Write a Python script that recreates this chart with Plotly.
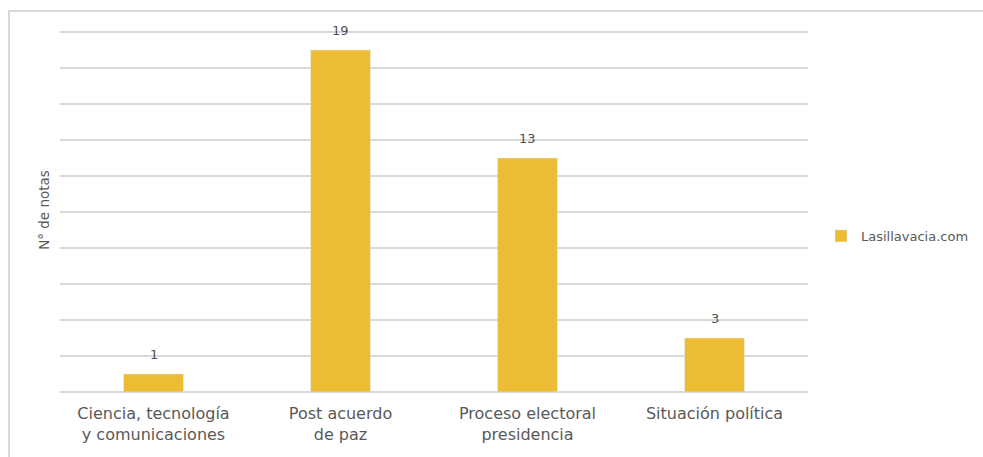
import plotly.graph_objects as go

categories = ["Ciencia, tecnología<br>y comunicaciones", "Post acuerdo<br>de paz",
              "Proceso electoral<br>presidencia", "Situación política"]
values = [1, 19, 13, 3]
series_name = "Lasillavacia.com"

W, H = 983, 457
L, R, T, B = 60, 175, 28, 65
pw, ph = W - L - R, H - T - B
FONT = "DejaVu Sans"
ytop = 20 * ph / (ph - 4)

fig = go.Figure(go.Bar(
    x=categories, y=values, name=series_name,
    marker=dict(color="#EDBC35"),
))

for c, v in zip(categories, values):
    fig.add_annotation(x=c, y=v, text=str(v), showarrow=False, yanchor="bottom", yshift=10,
                       font=dict(family=FONT, size=13, color="#505050"))

fig.update_layout(
    width=W, height=H,
    margin=dict(l=L, r=R, t=T, b=B, autoexpand=False),
    plot_bgcolor="white", paper_bgcolor="white",
    bargap=0.68,
    showlegend=True,
    legend=dict(xref="container", yref="container", x=821 / W, y=1 - 236 / H,
                xanchor="left", yanchor="middle",
                font=dict(family=FONT, size=13, color="#595959"),
                itemwidth=30),
    xaxis=dict(showgrid=False, showline=False, ticks="", ticklabelstandoff=10,
               tickfont=dict(family=FONT, size=16, color="#595959")),
    yaxis=dict(range=[0, ytop], tickvals=list(range(0, 21, 2)), showticklabels=False,
               showgrid=True,
               gridcolor="#d9d9d9", gridwidth=1.5, zeroline=True, zerolinecolor="#d9d9d9",
               zerolinewidth=1.5,
               title=dict(text="N° de notas", standoff=6,
                          font=dict(family=FONT, size=13.5, color="#595959"))),
    shapes=[dict(type="rect", xref="paper", yref="paper",
                 x0=(9 - L) / pw, x1=(W + 20 - L) / pw,
                 y0=(H - B - (H + 20)) / ph, y1=(H - B - 11) / ph,
                 line=dict(color="#d9d9d9", width=2), fillcolor="rgba(0,0,0,0)", layer="below")],
)

fig.write_html("out.html")
